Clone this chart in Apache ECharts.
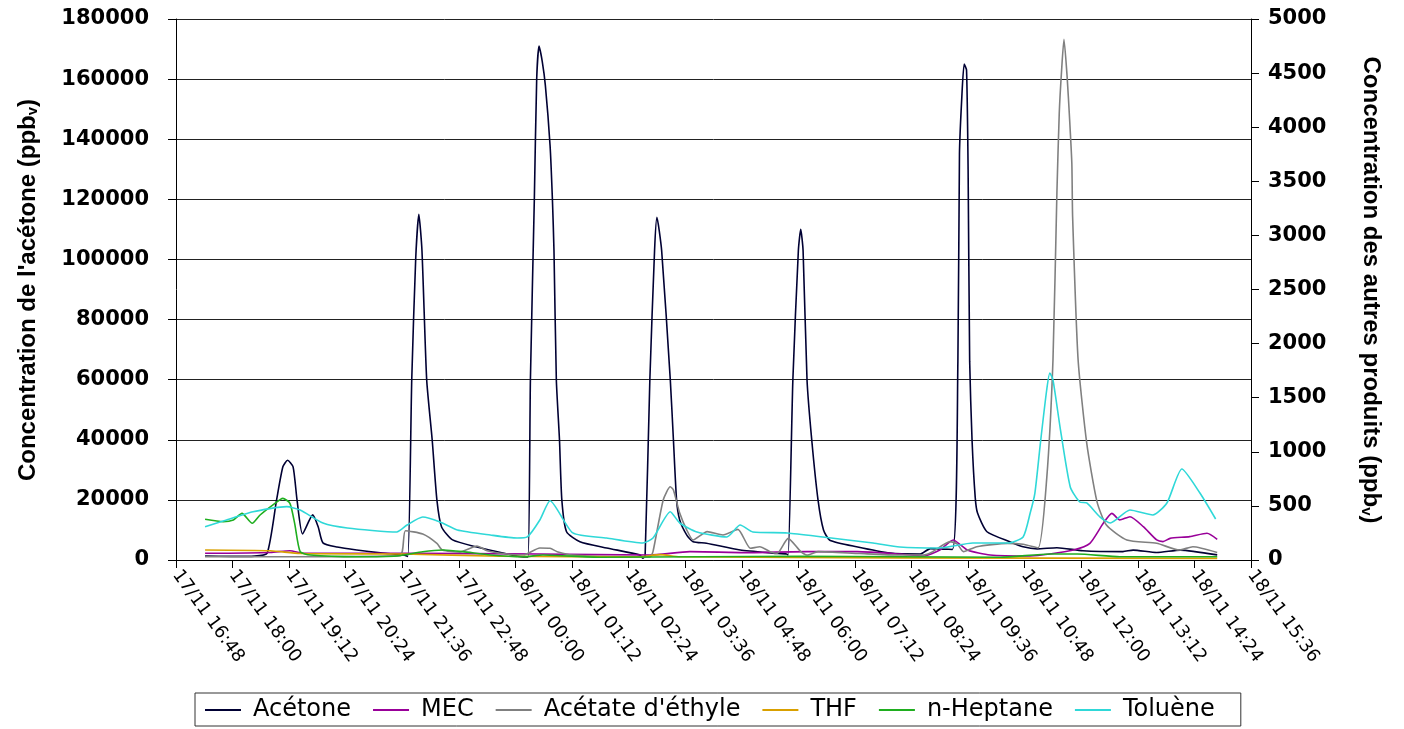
<!DOCTYPE html>
<html><head><meta charset="utf-8">
<script src="https://cdn.jsdelivr.net/npm/echarts@6/dist/echarts.min.js"></script>
<style>html,body{margin:0;padding:0;background:#fff}#c{width:1404px;height:729px}</style>
</head><body><div id="c"></div>
<script>
// time = minutes after 17/11 16:48
const seriesNames = ['Acétone', 'MEC', "Acétate d'éthyle", 'THF', 'n-Heptane', 'Toluène'];
const acetone = [[37,1300],[70,1200],[100,1300],[116,2300],[128,20000],[136,31000],[142,33200],[149,31000],[154,20000],[161,8700],[174,15000],[181,11000],[187,5700],[205,4300],[230,3300],[263,2300],[289,1700],[295,1200],[300,60000],[305,100000],[309,115000],[313,103000],[319,60000],[326,40000],[332,20000],[338,11000],[352,6700],[383,4300],[416,2300],[442,1000],[448,1000],[451,60000],[456,120000],[459,160000],[462,171000],[466,166000],[470,158000],[476,138000],[479,120000],[481,103000],[484,60000],[488,40000],[491,20000],[497,9400],[514,6100],[548,4000],[590,1700],[594,600],[597,1500],[603,60000],[609,103000],[612,114000],[618,103000],[629,60000],[633,40000],[637,20000],[641,13300],[650,8300],[658,6100],[675,5600],[718,3300],[760,2300],[777,2000],[779,1700],[785,60000],[792,103000],[795,110000],[798,103000],[803,60000],[809,40000],[817,20000],[824,10000],[832,6600],[866,4400],[909,2300],[947,2000],[960,3800],[988,3500],[995,66000],[997,135000],[1000,154000],[1003,165000],[1006,163000],[1008,130000],[1010,66000],[1013,40000],[1017,21000],[1020,15600],[1032,9400],[1061,6100],[1078,4400],[1096,3700],[1121,4100],[1154,3100],[1205,2800],[1218,3300],[1248,2500],[1278,3300],[1325,1700]];
const mec = [[37,62],[120,70],[145,86],[162,62],[289,62],[463,55],[603,46],[654,77],[727,68],[803,77],[867,77],[921,55],[951,37],[972,92],[989,185],[1007,92],[1036,46],[1087,37],[1112,55],[1142,92],[1163,154],[1180,339],[1191,431],[1201,370],[1214,400],[1231,308],[1248,185],[1256,170],[1265,200],[1290,216],[1312,247],[1325,191]];
const acetate = [[37,30],[145,30],[285,40],[292,271],[314,240],[332,154],[339,92],[361,73],[383,129],[396,86],[416,60],[442,46],[463,111],[476,108],[485,77],[505,46],[569,28],[603,28],[607,77],[620,555],[629,677],[633,647],[641,434],[650,277],[658,185],[676,262],[696,231],[715,283],[731,108],[743,123],[756,77],[765,62],[779,200],[795,77],[803,46],[817,77],[870,60],[921,46],[951,46],[963,77],[985,170],[994,150],[1002,77],[1019,123],[1058,154],[1078,145],[1097,111],[1108,750],[1116,1848],[1121,3392],[1124,4131],[1127,4529],[1130,4812],[1134,4467],[1137,4097],[1140,3666],[1141,3173],[1148,1848],[1159,1078],[1172,540],[1184,323],[1210,185],[1248,154],[1277,92],[1294,123],[1325,70]];
const thf = [[37,92],[120,85],[158,60],[289,55],[412,35],[590,30],[616,50],[641,30],[921,20],[1325,15]];
const heptane = [[37,376],[60,354],[73,370],[84,431],[97,339],[107,416],[123,508],[136,570],[145,524],[151,339],[158,77],[171,46],[230,30],[281,37],[314,77],[340,92],[365,77],[400,46],[442,30],[467,46],[540,25],[667,30],[794,35],[921,30],[1049,25],[1112,55],[1147,55],[1201,30],[1325,30]];
const toluene = [[37,308],[60,360],[98,446],[141,493],[158,462],[187,342],[218,296],[281,259],[294,323],[314,397],[336,351],[358,277],[400,231],[434,203],[447,213],[463,370],[476,548],[505,250],[548,203],[594,157],[607,203],[629,446],[641,342],[663,259],[701,213],[718,323],[734,259],[778,250],[823,213],[887,157],[921,120],[972,111],[1014,157],[1058,157],[1078,213],[1087,434],[1093,619],[1100,1081],[1108,1571],[1112,1728],[1116,1664],[1125,1229],[1138,675],[1150,536],[1159,527],[1176,397],[1189,342],[1214,462],[1243,416],[1261,527],[1280,841],[1303,619],[1323,379]];
const seriesColors = ['#000033', '#990099', '#808080', '#d9a000', '#1fae1f', '#2fd8d8'];
const seriesData = [acetone, mec, acetate, thf, heptane, toluene];
const leftTitle = "Concentration de l'acétone (ppb";
const rightTitle = 'Concentration des autres produits (ppb';

function pad(n){ return (n < 10 ? '0' : '') + n; }
function timeLabel(v){
  const m = Math.round(16*60 + 48 + v);
  const d = 17 + Math.floor(m / 1440);
  const mm = m % 1440;
  return d + '/11 ' + pad(Math.floor(mm/60)) + ':' + pad(mm % 60);
}
function plainNumber(v){ return String(v); }

const chart = echarts.init(document.getElementById('c'));
const titleRich = {
  a: {fontFamily: 'Liberation Sans', fontWeight: 'bold', fontSize: 24, color: '#000', lineHeight: 31, verticalAlign: 'bottom'},
  s: {fontFamily: 'Liberation Sans', fontWeight: 'bold', fontSize: 15, color: '#000', lineHeight: 15, verticalAlign: 'bottom'}
};
chart.setOption({
  animation: false,
  backgroundColor: '#fff',
  grid: {left: 176, right: 153, top: 19, bottom: 169},
  legend: {
    data: seriesNames,
    left: 195, top: 693,
    icon: 'rect', itemWidth: 36, itemHeight: 2, itemGap: 22,
    padding: [5, 26, 4, 10],
    borderColor: '#333', borderWidth: 1,
    textStyle: {fontFamily: 'DejaVu Sans', fontSize: 24, color: '#000', padding: [0, 0, 0, 7]}
  },
  xAxis: {
    type: 'value', min: 0, max: 1368, interval: 72,
    axisLine: {show: true, onZero: false, lineStyle: {color: '#000', width: 1}},
    axisTick: {show: true, length: 8, lineStyle: {color: '#000'}},
    splitLine: {show: false},
    axisLabel: {rotate: -54, margin: 12, fontFamily: 'DejaVu Sans', fontSize: 18, color: '#000',
      showMinLabel: true, showMaxLabel: true, formatter: timeLabel}
  },
  yAxis: [{
    type: 'value', min: 0, max: 180000, interval: 20000, position: 'left',
    axisLine: {show: true, lineStyle: {color: '#000', width: 1}},
    axisTick: {show: true, length: 8, lineStyle: {color: '#000'}},
    splitLine: {show: true, lineStyle: {color: '#222', width: 1}},
    axisLabel: {margin: 27, fontFamily: 'DejaVu Sans', fontWeight: 'bold', fontSize: 21, color: '#000', formatter: plainNumber}
  }, {
    type: 'value', min: 0, max: 5000, interval: 500, position: 'right',
    axisLine: {show: true, lineStyle: {color: '#000', width: 1}},
    axisTick: {show: true, length: 8, lineStyle: {color: '#000'}},
    splitLine: {show: false},
    axisLabel: {margin: 17, fontFamily: 'DejaVu Sans', fontWeight: 'bold', fontSize: 21, color: '#000', formatter: plainNumber}
  }],
  graphic: [{
    type: 'text', x: 25, y: 290, rotation: Math.PI / 2,
    style: {text: '{a|' + leftTitle + '}{s|v}{a|)}', rich: titleRich, align: 'center', verticalAlign: 'middle'}
  }, {
    type: 'text', x: 1374, y: 290, rotation: -Math.PI / 2,
    style: {text: '{a|' + rightTitle + '}{s|v}{a|)}', rich: titleRich, align: 'center', verticalAlign: 'middle'}
  }],
  series: seriesNames.map((n, i) => ({
    name: n, type: 'line', yAxisIndex: i === 0 ? 0 : 1,
    data: seriesData[i], showSymbol: false, symbol: 'none', smooth: 0.2,
    lineStyle: {color: seriesColors[i], width: 1.6}, itemStyle: {color: seriesColors[i]}
  }))
});
</script></body></html>
